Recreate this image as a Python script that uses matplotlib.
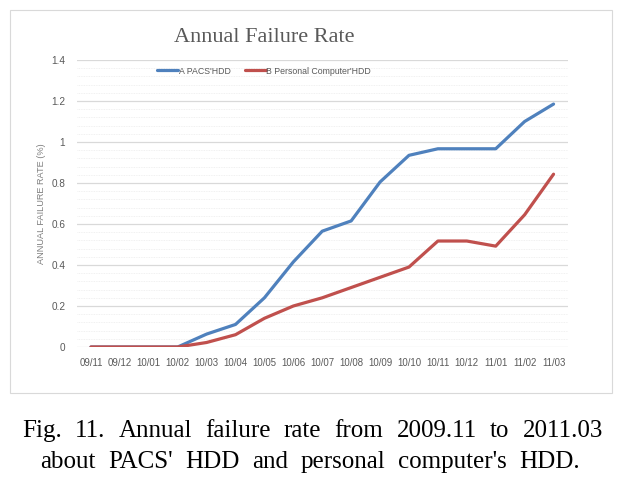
import matplotlib.pyplot as plt
from matplotlib.patches import Rectangle
from matplotlib.ticker import MultipleLocator, FuncFormatter

months = ['09/11', '09/12', '10/01', '10/02', '10/03', '10/04', '10/05', '10/06', '10/07',
          '10/08', '10/09', '10/10', '10/11', '10/12', '11/01', '11/02', '11/03']
pacs_hdd = [0, 0, 0, 0, 0.063, 0.11, 0.24, 0.415, 0.565, 0.615, 0.805, 0.935, 0.967,
            0.967, 0.967, 1.10, 1.185]
pc_hdd = [0, 0, 0, 0, 0.022, 0.06, 0.14, 0.20, 0.24, 0.29, 0.34, 0.39, 0.517,
          0.517, 0.492, 0.645, 0.843]

caption = ['Fig. 11. Annual failure rate from 2009.11 to 2011.03',
           "about PACS' HDD and personal computer's HDD."]

sans = 'Liberation Sans'
grey = '#595959'
W, H = 617, 479

fig = plt.figure(figsize=(6.17, 4.79), dpi=100)
fig.patches.append(Rectangle((10/W, 1-393/H), 602/W, 383/H, transform=fig.transFigure,
                             fill=False, edgecolor='#d9d9d9', linewidth=0.8))

ax = fig.add_axes([76.5/W, 1-347/H, (568-76.5)/W, (347-60)/H])
x = list(range(len(months)))
ax.plot(x, pacs_hdd, color='#4f81bd', lw=2.3, label="A PACS'HDD", solid_capstyle='round')
ax.plot(x, pc_hdd, color='#c0504d', lw=2.3, label="B Personal Computer'HDD", solid_capstyle='round')

ax.set_xlim(-0.5, len(months) - 0.5)
ax.set_ylim(0, 1.4)
ax.set_xticks(x)
ax.set_xticklabels(months, fontsize=6.9, color=grey, family=sans)
ax.yaxis.set_major_locator(MultipleLocator(0.2))
ax.yaxis.set_minor_locator(MultipleLocator(0.04))
ax.yaxis.set_major_formatter(FuncFormatter(lambda v, p: f'{v:g}'))
for t in ax.get_yticklabels():
    t.set_fontsize(7.2)
    t.set_color(grey)
    t.set_family(sans)
ax.tick_params(length=0, which='both', pad=8)
ax.grid(axis='y', which='major', color='#d9d9d9', lw=0.9)
ax.grid(axis='y', which='minor', color='#ececec', lw=0.6, ls=(0, (1, 1)))
ax.set_axisbelow(True)
for s in ax.spines.values():
    s.set_visible(False)

ax.set_ylabel('ANNUAL FAILURE RATE (%)', fontsize=6.6, color='#7f7f7f', family=sans,
              labelpad=4)

fig.text(264/W, 1-37/H, 'Annual Failure Rate', ha='center', va='center',
         fontsize=16, color=grey, family='Liberation Serif')

ax.legend(loc='center', bbox_to_anchor=((264-76.5)/(568-76.5), (347-71)/(347-60)),
          ncol=2, frameon=False, handlelength=2.4, columnspacing=1.6, handletextpad=0.05,
          prop={'family': sans, 'size': 6.3}, labelcolor=grey)

# caption, words spread across each line (justified)
fig.canvas.draw()
renderer = fig.canvas.get_renderer()
bounds = [(22, 603, 437), (40, 580, 468)]
for line, (x0, x1, yb) in zip(caption, bounds):
    words = line.split(' ')
    texts = [fig.text(0, 1-yb/H, w, ha='left', va='baseline', fontsize=18,
                      family='Liberation Serif', color='black') for w in words]
    widths = [t.get_window_extent(renderer).width for t in texts]
    gap = ((x1 - x0) - sum(widths)) / (len(words) - 1)
    pos = x0
    for t, w in zip(texts, widths):
        t.set_x(pos / W)
        pos += w + gap

fig.savefig('out.png', dpi=100)
